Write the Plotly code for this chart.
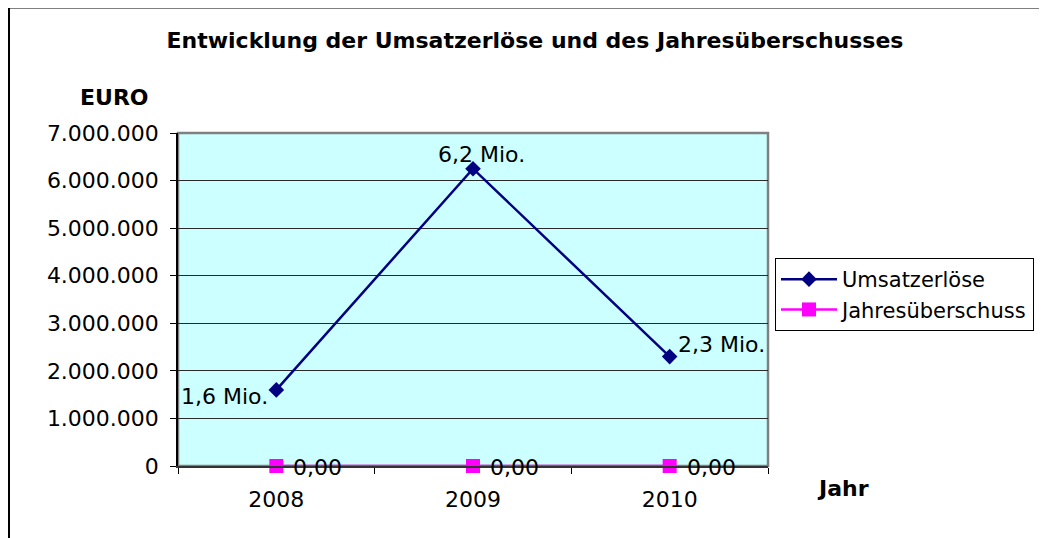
import plotly.graph_objects as go

years = ["2008", "2009", "2010"]
umsatz = [1600000, 6250000, 2300000]
umsatz_labels = ["1,6 Mio.", "6,2 Mio.", "2,3 Mio."]
ueberschuss = [0, 0, 0]
ueberschuss_labels = ["0,00", "0,00", "0,00"]
y_ticks = [0, 1000000, 2000000, 3000000, 4000000, 5000000, 6000000, 7000000]

FONT = "DejaVu Sans"
OFF = 8  # page body margin
W, H = 1047 - OFF, 538 - OFF
L, T = 178 - OFF, 133 - OFF
PW, PH = 590, 333
R = W - L - PW
B = H - T - PH

def px(x):
    return (x - OFF - L) / PW

def py(y):
    return (H - B - (y - OFF)) / PH

fig = go.Figure()
fig.add_trace(go.Scatter(
    x=years, y=umsatz, name="Umsatzerlöse", mode="lines+markers",
    line=dict(color="#000080", width=2.5),
    marker=dict(symbol="diamond", size=12, color="#000080"),
    cliponaxis=False,
))
fig.add_trace(go.Scatter(
    x=years, y=ueberschuss, name="Jahresüberschuss", mode="lines+markers",
    line=dict(color="#FF00FF", width=2.5),
    marker=dict(symbol="square", size=14, color="#FF00FF"),
    cliponaxis=False,
))

# data labels (placed at data coordinates; category index on x)
u_anchor = [("right", -6, -7), ("center", 8, 14), ("left", 6, 12)]
for i, (val, lab, (xa, xs, ys)) in enumerate(zip(umsatz, umsatz_labels, u_anchor)):
    fig.add_annotation(x=i, y=val, xref="x", yref="y", text=lab, showarrow=False,
                       xanchor=xa, yanchor="middle", xshift=xs, yshift=ys,
                       font=dict(family=FONT, size=22, color="black"))
for i, (val, lab) in enumerate(zip(ueberschuss, ueberschuss_labels)):
    fig.add_annotation(x=i, y=val, xref="x", yref="y", text=lab, showarrow=False,
                       xanchor="left", yanchor="middle", xshift=15, yshift=-1,
                       font=dict(family=FONT, size=22, color="black"))

fig.update_layout(
    width=W, height=H,
    margin=dict(l=L, r=R, t=T, b=B, pad=0),
    paper_bgcolor="white", plot_bgcolor="#CCFFFF",
    separators=",.",
    font=dict(family=FONT, size=22, color="black"),
    showlegend=True,
    legend=dict(x=px(775), y=py(258), xanchor="left", yanchor="top",
                bordercolor="black", borderwidth=1, bgcolor="white",
                font=dict(family=FONT, size=21), tracegroupgap=0,
                itemwidth=56),
    title=dict(text="<b>Entwicklung der Umsatzerlöse und des Jahresüberschusses</b>",
               x=(535 - OFF) / W, xanchor="center", y=1 - (40 - OFF) / H, yanchor="middle",
               font=dict(family=FONT, size=22, color="black")),
)
fig.update_xaxes(
    type="category", range=[-0.5, 2.5], tickson="boundaries",
    ticks="outside", ticklen=6, tickcolor="black", tickwidth=1,
    showline=True, linecolor="#333333", linewidth=2,
    showgrid=False, zeroline=False, ticklabelstandoff=13,
    tickfont=dict(family=FONT, size=22),
)
fig.update_yaxes(
    range=[0, 7000000], tickvals=y_ticks, tickformat=",d",
    ticks="outside", ticklen=6, tickcolor="black", tickwidth=1,
    showline=True, linecolor="black", linewidth=1.5,
    showgrid=True, gridcolor="#2a2a2a", gridwidth=1, zeroline=False,
    ticklabelstandoff=7,
    tickfont=dict(family=FONT, size=22),
)

# plot area gray frame (top/right)
fig.add_shape(type="rect", xref="paper", yref="paper", x0=0, x1=1, y0=0, y1=1,
              line=dict(color="#808080", width=2.5), layer="below")
# outer chart border (top and left visible)
fig.add_shape(type="line", xref="paper", yref="paper",
              x0=px(8.5), x1=px(1100), y0=py(7.5), y1=py(7.5),
              line=dict(color="black", width=2))
fig.add_shape(type="line", xref="paper", yref="paper",
              x0=px(9), x1=px(9), y0=py(7.5), y1=py(600),
              line=dict(color="black", width=2))

fig.add_annotation(text="<b>EURO</b>", xref="paper", yref="paper",
                   x=px(114), y=py(97), xanchor="center", yanchor="middle",
                   showarrow=False,
                   font=dict(family=FONT, size=22, color="black"))
fig.add_annotation(text="<b>Jahr</b>", xref="paper", yref="paper",
                   x=px(843), y=py(489), xanchor="center", yanchor="middle",
                   showarrow=False,
                   font=dict(family=FONT, size=22, color="black"))

fig.write_html("out.html")
